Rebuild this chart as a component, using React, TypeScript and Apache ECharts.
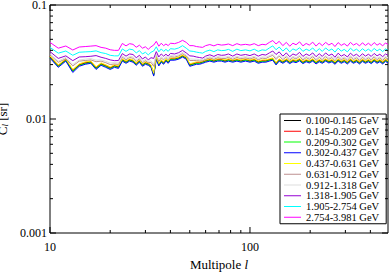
import React, { useEffect, useRef } from "react";
import * as echarts from "echarts";

// Multipole values (shared by all energy bins)
const ells = [10,11,12,13,14,15,16,17,18,19,20,21,22,23,24,25,26,27,28,29,30,31,32,33,34,35,36,37,38,39,40,
  42,44,46,48,50,52,54,56,58,60,63,66,69,72,75,78,82,86,90,95,100,
  105,110,115,120,125,130,135,140,146,152,158,164,170,177,184,191,198,
  206,214,222,230,239,248,257,266,276,286,296,
  307,318,329,341,353,365,378,391,404,418,432,446,461,476,490];

const binLabels = [
  "0.100-0.145 GeV","0.145-0.209 GeV","0.209-0.302 GeV","0.302-0.437 GeV","0.437-0.631 GeV",
  "0.631-0.912 GeV","0.912-1.318 GeV","1.318-1.905 GeV","1.905-2.754 GeV","2.754-3.981 GeV",
];
const binColors = ["#000000","#ff0000","#00ff00","#0000ff","#ffff00","#bc8f8f","#dcdcdc","#9400d3","#00ffff","#ff00ff"];

// C_l values in units of 1e-4 sr
const clBlack = [350,292,330,264,298,310,316,280,304,292, 280,292,286,330,316,330,323,304,323,298, 310,304,292,245,343,300,323,310,330,316, 336,
  336,343,357,343,298,304,310,310,316,323, 330,323,330,330,323,330, 323,330,323,330,323,
  330,316,323,323,330,336,306,330, 316,330,314,326,320,332,314,326,318,
  330,312,326,316,330,318,326,310,330,316,326,
  312,330,316,326,312,328,316,326,314,330,316,326,312,328,318];
const clRed = [354,294,333,268,300,314,318,284,306,296, 282,295,289,333,320,332,327,306,326,301, 313,307,295,249,346,303,326,313,333,319, 339,
  339,346,360,347,301,307,313,314,319,326, 333,327,333,333,326,334, 326,333,327,333,326,
  334,319,326,327,333,339,310,333, 320,333,318,329,324,335,318,329,322,
  333,316,329,320,333,322,329,314,333,320,329,
  316,333,320,329,316,331,320,329,318,333,320,329,316,331,322];
const clGreen = [346,290,326,262,295,306,313,277,301,289, 277,289,283,327,313,327,320,301,320,295, 307,301,289,242,339,297,320,307,327,313, 333,
  333,340,354,340,295,301,307,307,313,320, 327,320,327,327,320,327, 320,327,320,327,320,
  327,313,320,320,327,333,303,327, 313,327,311,323,317,329,311,323,315,
  327,309,323,313,327,315,323,307,327,313,323,
  309,327,313,323,309,325,313,323,311,327,313,323,309,325,315];
const clBlue = [342,284,322,256,290,302,308,272,296,284, 272,284,278,322,308,322,315,296,315,290, 302,296,284,238,335,292,315,302,322,308, 328,
  328,335,349,335,290,296,302,302,308,315, 322,315,322,322,315,322, 315,322,315,322,315,
  322,308,315,315,322,328,298,322, 308,322,306,318,312,324,306,318,310,
  322,304,318,308,322,310,318,302,322,308,318,
  304,322,308,318,304,320,308,318,306,322,308,318,304,320,310];
const clYellow = [357,299,337,272,305,317,323,287,311,299, 287,299,293,337,323,337,330,311,330,305, 317,311,299,252,350,307,330,317,337,323, 343,
  343,350,364,350,305,311,317,317,323,330, 337,330,337,337,330,337, 330,337,330,337,330,
  337,323,330,330,337,343,313,337, 323,337,321,333,327,339,321,333,325,
  337,319,333,323,337,325,333,317,337,323,333,
  319,337,323,333,319,335,323,333,321,337,323,333,319,335,325];
const clBrown = [366,314,338,292,322,326,330,318,322,312, 300,304,301,348,331,347,341,320,338,312, 325,312,314,290,362,320,343,330,346,331, 352,
  349,358,374,356,326,326,325,323,324,334, 344,334,345,340,339,347, 334,347,338,344,336,
  347,331,342,339,352,362,333,356, 332,351,328,346,336,355,329,346,334,
  352,327,347,330,352,334,346,324,351,331,343,
  326,351,332,344,327,348,331,344,329,350,332,344,327,346,335];
const clGrey = [374,321,347,301,329,335,339,328,330,321, 310,312,310,357,340,355,350,329,346,321, 334,320,324,302,371,330,352,338,354,340, 360,
  358,366,383,365,336,335,334,332,332,343, 352,342,353,349,348,355, 343,355,346,353,345,
  355,340,350,348,360,371,343,365, 340,360,337,354,345,363,338,354,343,
  360,336,355,339,360,343,354,333,359,340,351,
  335,359,341,352,336,356,340,352,338,358,341,352,336,354,344];
const clViolet = [390,340,358,325,350,352,355,360,348,340, 330,325,326,375,356,372,368,345,362,336, 350,330,345,340,390,350,372,356,370,356, 376,
  372,382,400,380,358,356,350,346,342,356, 366,354,368,362,364,372, 356,372,362,368,360,
  372,356,368,364,380,395,368,388, 356,380,352,372,362,384,354,372,360,
  380,352,374,354,380,360,372,348,378,356,368,
  350,378,358,370,352,374,356,370,354,376,358,370,352,372,362];
const clCyan = [425,378,395,362,385,388,390,396,382,375, 362,358,358,412,392,410,405,380,398,372, 385,365,385,395,430,388,412,392,408,392, 414,
  410,420,440,418,395,392,386,382,378,392, 402,390,404,398,400,408, 392,410,398,404,396,
  410,392,404,400,420,438,405,428, 394,420,388,412,400,422,392,410,398,
  420,390,414,392,420,398,412,386,418,394,408,
  388,418,396,410,390,414,394,410,392,416,396,410,390,412,400];
const clMagenta = [470,418,437,403,428,432,436,440,425,418, 405,400,400,460,438,458,452,426,444,418, 430,408,430,445,480,435,462,440,455,440, 462,
  458,470,490,470,440,440,432,428,425,440, 450,438,452,445,448,455, 440,458,446,452,445,
  458,440,452,448,470,488,455,480, 440,470,435,462,448,475,438,460,445,
  472,436,465,440,470,446,462,432,468,442,458,
  436,470,445,460,438,466,442,462,440,468,444,460,438,465,450];

const xMajorTicks = [10, 100];
const xMinorTicks = [20, 30, 40, 50, 60, 70, 80, 90, 200, 300, 400];
const yMajorTicks = [0.001, 0.01, 0.1];
const yMinorTicks = [0.002, 0.003, 0.004, 0.005, 0.006, 0.007, 0.008, 0.009, 0.02, 0.03, 0.04, 0.05, 0.06, 0.07, 0.08, 0.09];

const X_MIN = 10, X_MAX = 490, Y_MIN = 0.001, Y_MAX = 0.1;
const SERIF = "'Liberation Serif', 'DejaVu Serif', serif";

function powLabel(v: number) {
  const lg = Math.log10(v);
  const e = Math.round(lg);
  if (Math.abs(lg - e) > 1e-6) return "";
  return String(Number(Math.pow(10, e).toFixed(6)));
}

export default function App() {
  const ref = useRef<HTMLDivElement>(null);
  useEffect(() => {
    const chart = echarts.init(ref.current!, null, { renderer: "svg" });
    const allValues = [clBlack, clRed, clGreen, clBlue, clYellow, clBrown, clGrey, clViolet, clCyan, clMagenta];
    const lineSeries = allValues.map((vals, i) => ({
      name: binLabels[i],
      type: "line",
      data: ells.map((l, j) => [l, vals[j] / 1e4]),
      symbol: "none",
      showSymbol: false,
      lineStyle: { color: binColors[i], width: 1 },
      itemStyle: { color: binColors[i] },
      z: 2,
    }));
    const xTickSeries = {
      type: "custom",
      silent: true,
      clip: false,
      z: 5,
      data: [...xMajorTicks.map((v) => [v, 0.01, 6]), ...xMinorTicks.map((v) => [v, 0.01, 3])],
      renderItem: (_p: any, api: any) => {
        const v = api.value(0);
        const len = api.value(2);
        const b = api.coord([v, Y_MIN]);
        const t = api.coord([v, Y_MAX]);
        return {
          type: "group",
          children: [
            { type: "line", shape: { x1: b[0], y1: b[1], x2: b[0], y2: b[1] - len }, style: { stroke: "#000", lineWidth: 1 } },
            { type: "line", shape: { x1: t[0], y1: t[1], x2: t[0], y2: t[1] + len }, style: { stroke: "#000", lineWidth: 1 } },
          ],
        };
      },
    };
    const yTickSeries = {
      type: "custom",
      silent: true,
      clip: false,
      z: 5,
      data: [...yMajorTicks.map((v) => [20, v, 6]), ...yMinorTicks.map((v) => [20, v, 3])],
      renderItem: (_p: any, api: any) => {
        const v = api.value(1);
        const len = api.value(2);
        const l = api.coord([X_MIN, v]);
        const r = api.coord([X_MAX, v]);
        return {
          type: "group",
          children: [
            { type: "line", shape: { x1: l[0], y1: l[1], x2: l[0] + len, y2: l[1] }, style: { stroke: "#000", lineWidth: 1 } },
            { type: "line", shape: { x1: r[0], y1: r[1], x2: r[0] - len, y2: r[1] }, style: { stroke: "#000", lineWidth: 1 } },
          ],
        };
      },
    };
    chart.setOption({
      animation: false,
      backgroundColor: "#ffffff",
      grid: {
        left: 50, right: 2, top: 5, bottom: 39,
        show: true, borderColor: "#000", borderWidth: 1,
        containLabel: false, outerBoundsMode: "none",
      },
      xAxis: {
        type: "log",
        logBase: 10,
        min: X_MIN,
        max: X_MAX,
        axisLine: { show: false },
        axisTick: { show: false },
        splitLine: { show: false },
        axisLabel: { formatter: (v: number) => powLabel(v), color: "#000", fontFamily: SERIF, fontSize: 12, margin: 8 },
        name: "{a|Multipole }{i|l}",
        nameLocation: "middle",
        nameGap: 21,
        nameTextStyle: {
          rich: {
            a: { fontFamily: SERIF, fontSize: 13, color: "#000" },
            i: { fontFamily: SERIF, fontSize: 13, fontStyle: "italic", color: "#000" },
          },
        },
      },
      yAxis: {
        type: "log",
        logBase: 10,
        min: Y_MIN,
        max: Y_MAX,
        axisLine: { show: false },
        axisTick: { show: false },
        splitLine: { show: false },
        axisLabel: { formatter: (v: number) => powLabel(v), color: "#000", fontFamily: SERIF, fontSize: 12, margin: 3 },
        name: "{a|C}{s|l}{a| [sr]}",
        nameLocation: "middle",
        nameGap: 35,
        nameTextStyle: {
          rich: {
            a: { fontFamily: SERIF, fontSize: 13, color: "#000", verticalAlign: "bottom", lineHeight: 13 },
            s: { fontFamily: SERIF, fontSize: 9, fontStyle: "italic", color: "#000", verticalAlign: "bottom", lineHeight: 9 },
          },
        },
      },
      legend: {
        data: binLabels,
        orient: "vertical",
        left: 280,
        top: 114,
        icon: "rect",
        itemWidth: 17,
        itemHeight: 1,
        itemGap: -0.25,
        padding: [1, 7, 1, 4],
        backgroundColor: "#ffffff",
        borderColor: "#000",
        borderWidth: 1,
        borderRadius: 0,
        textStyle: { fontFamily: SERIF, fontSize: 10.5, color: "#000", lineHeight: 10 },
        selectedMode: false,
      },
      series: [...lineSeries, xTickSeries, yTickSeries],
    });
    return () => chart.dispose();
  }, []);
  return <div ref={ref} style={{ position: "fixed", left: 0, top: 0, width: 390, height: 272 }} />;
}
